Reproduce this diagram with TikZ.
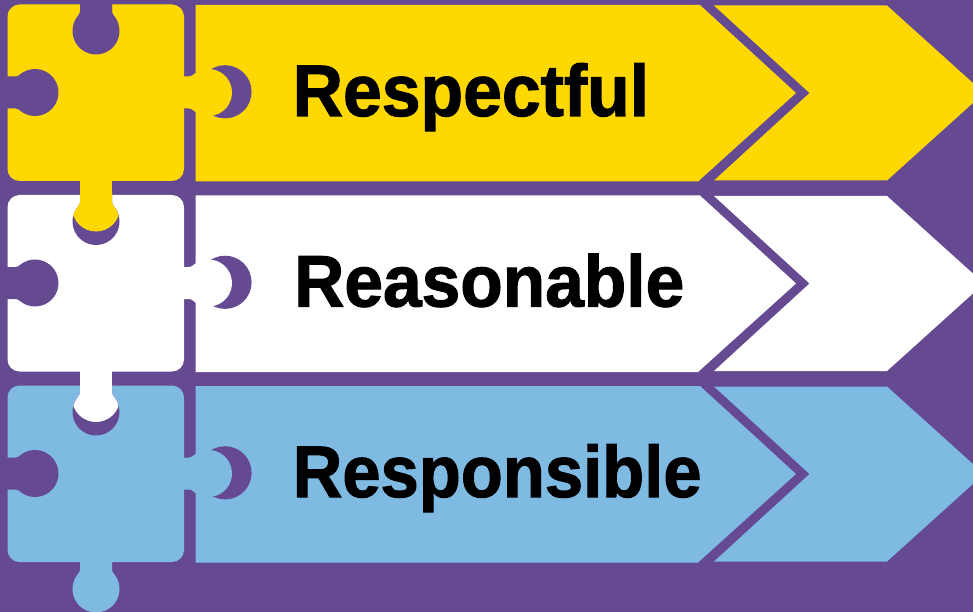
\documentclass[tikz,border=0pt]{standalone}
\usepackage{fontspec}
\setmainfont{Liberation Sans}
\newfontfamily\labelfont[FakeBold=1.5,BoldFont={Liberation Sans Bold}]{Liberation Sans Bold}
\definecolor{bgpurple}{HTML}{654A91}
\definecolor{cyellow}{HTML}{FFD802}
\definecolor{cwhite}{HTML}{FFFFFF}
\definecolor{cblue}{HTML}{7FBAE2}
\tikzset{
  labeltext/.style={inner sep=0pt,text=black,font=\fontsize{73}{73}\labelfont,anchor=base west,transform shape},
  hole/.style={fill=bgpurple},
}
% knob outline: #1 distance of ball centre from base
\newcommand{\knobpath}[1]{%
  (-3,16) -- ({#1-19.5},16)
    .. controls ({#1-17.5},16) and ({#1-16.5},16.8) .. ({#1-15.1},18)
    arc[start angle=130,end angle=-130,radius=23.5]
    .. controls ({#1-16.5},-16.8) and ({#1-17.5},-16) .. ({#1-19.5},-16) -- (-3,-16) -- cycle%
}
% row: #1 colour, #2 vertical offset, #3 colour of the tab from the row above
\newcommand{\puzzlerow}[3]{%
  \begin{scope}[yshift={-(#2)*1pt}]
    \fill[#1] (195.5,5) -- (700,5) -- (796,93) -- (698,181.5) -- (195.5,181.5) -- cycle;
    \fill[#1] (714,5.5) -- (887,5.5) -- (984,93) -- (887,180.5) -- (714,180.5) -- (809.5,93) -- cycle;
    \fill[hole] (225,91.8) circle[radius=26.6];
    \fill[#1,rounded corners=12pt] (7.5,4.5) rectangle (184,181);
    \fill[bgpurple,shift={(7.5,92.5)}] \knobpath{27.5};
    \fill[bgpurple,shift={(96,4.5)},rotate=-90] \knobpath{26.5};
    \fill[#3] (80,-12) rectangle (112,16);
    \begin{scope}
      \clip[shift={(96,4.5)},rotate=-90] \knobpath{26.5};
      \fill[#3] (96,17) circle[radius=24];
    \end{scope}
    \fill[#1,shift={(184,92.5)}] \knobpath{24.5};
  \end{scope}%
}
\begin{document}
\begin{tikzpicture}[x=1pt,y=-1pt]
  \useasboundingbox (0,0) rectangle (973,612);
  \fill[bgpurple] (0,0) rectangle (973,612);
  \begin{scope}
    \clip (0,0) rectangle (973,612);
    \puzzlerow{cyellow}{0}{bgpurple}
    \puzzlerow{cwhite}{190.5}{cyellow}
    \puzzlerow{cblue}{381}{cwhite}
    \fill[cblue,shift={(96,562)},rotate=-90] \knobpath{27};
  \end{scope}
  \node[labeltext,xscale=0.955] (respectful) at (292.5,116) {Respectful};
  \node[labeltext,xscale=0.952] (reasonable) at (294,306.5) {Reasonable};
  \node[labeltext,xscale=0.942] (responsible) at (292.5,497) {Responsible};
\end{tikzpicture}
\end{document}
